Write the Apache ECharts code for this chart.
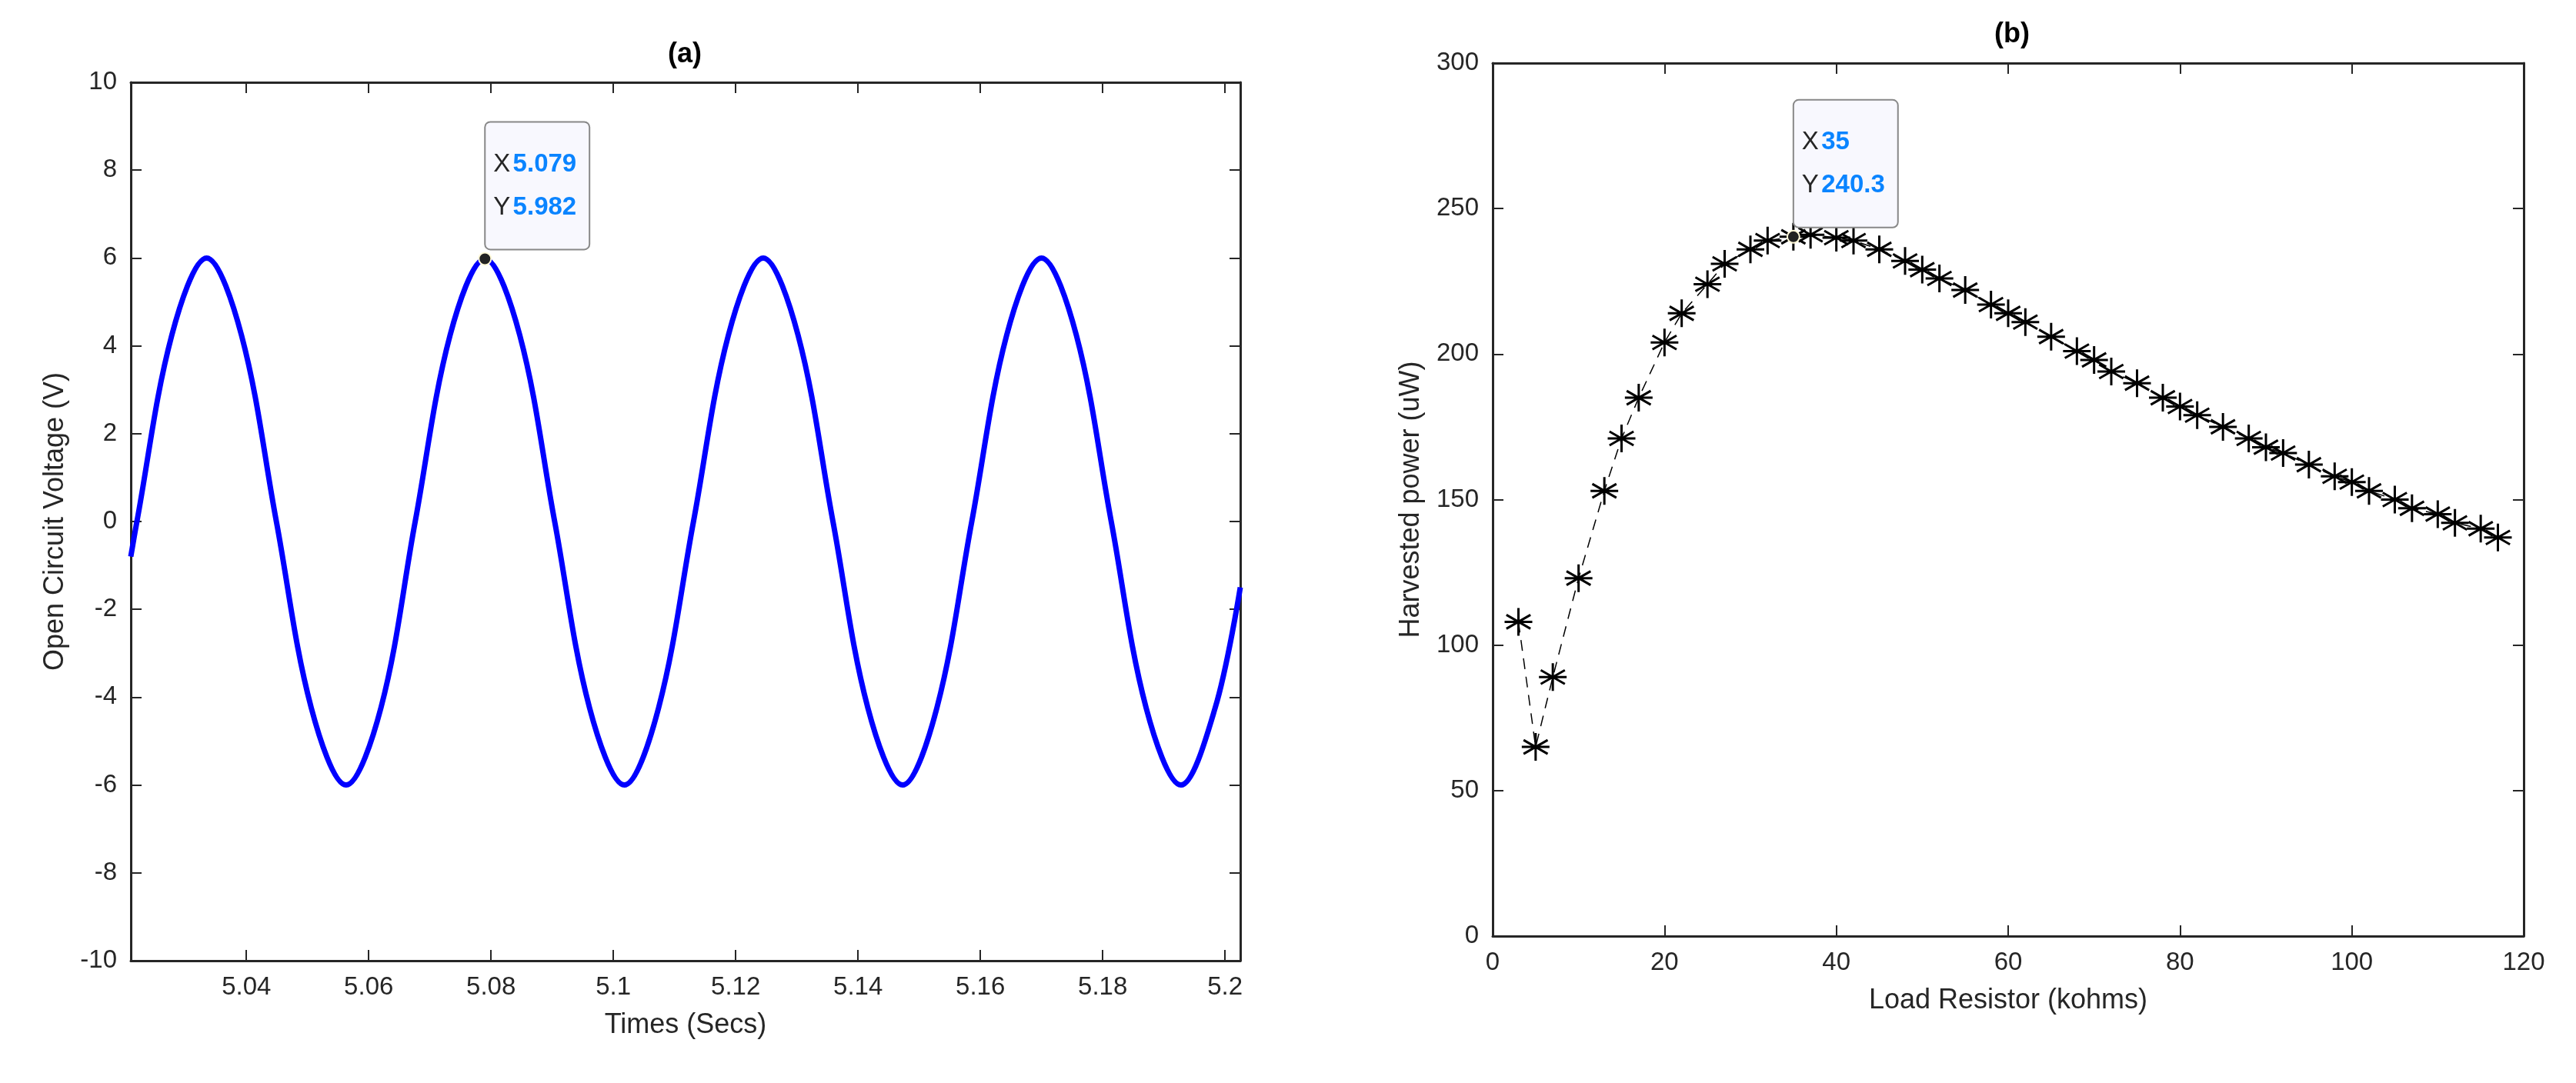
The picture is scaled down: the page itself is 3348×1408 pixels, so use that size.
<!DOCTYPE html>
<html>
<head>
<meta charset="utf-8">
<script src="https://cdn.jsdelivr.net/npm/echarts@6/dist/echarts.min.js"></script>
<style>
  html, body { margin: 0; padding: 0; background: #fff; }
  #chart { width: 3348px; height: 1408px; }
</style>
</head>
<body>
<div id="chart"></div>
<script>
// (a) open circuit voltage
var timeSecs = [5.0211, 5.0221, 5.0278, 5.0335, 5.0392, 5.0449, 5.0506, 5.0563, 5.0620, 5.0676,
  5.0733, 5.0790, 5.0847, 5.0904, 5.0961, 5.1018, 5.1074, 5.1131, 5.1188, 5.1245,
  5.1302, 5.1359, 5.1416, 5.1473, 5.1529, 5.1586, 5.1643, 5.1700, 5.1757, 5.1814,
  5.1871, 5.1928, 5.1984, 5.2025];
var voltage = [-0.8, 0, 4.24, 6, 4.24, 0, -4.24, -6, -4.24, 0,
  4.24, 5.982, 4.24, 0, -4.24, -6, -4.24, 0, 4.24, 6,
  4.24, 0, -4.24, -6, -4.24, 0, 4.24, 6, 4.24, 0,
  -4.24, -6, -4.24, -1.5];
var timeTicks = [5.04, 5.06, 5.08, 5.1, 5.12, 5.14, 5.16, 5.18, 5.2];

// (b) harvested power vs load
var loadK = [3, 5, 7, 10, 13, 15, 17, 20, 22, 25, 27, 30, 32, 35, 37, 40, 42, 45, 48, 50,
  52, 55, 58, 60, 62, 65, 68, 70, 72, 75, 78, 80, 82, 85, 88, 90, 92, 95, 98, 100,
  102, 105, 107, 110, 112, 115, 117];
var powerUW = [108, 65, 89, 123, 153, 171, 185, 204, 214, 224, 231, 236, 239, 240.3, 241, 240, 239, 236, 232, 229,
  226, 222, 217, 214, 211, 206, 201, 198, 194, 190, 185, 182, 179, 175, 171, 168, 166, 162, 158, 156,
  153, 150, 147, 145, 142, 140, 137];

var tipA = [5.079, 5.982];
var tipB = [35, 240.3];

var font = 'Liberation Sans';
var dom = document.getElementById('chart');
var myChart = echarts.init(dom);

function boxAxis(pos, grid, min, max, interval) {
  return {
    type: 'value', position: pos, gridIndex: grid, min: min, max: max, interval: interval,
    axisLine: { show: true, onZero: false, lineStyle: { color: '#262626', width: 3 } },
    axisTick: { show: true, inside: true, length: 14, lineStyle: { color: '#262626', width: 2 } },
    axisLabel: { show: false }, splitLine: { show: false }
  };
}

function mainAxis(pos, grid, min, max, interval, name, gap, extra) {
  var a = boxAxis(pos, grid, min, max, interval);
  a.axisLabel = { show: true, fontFamily: font, fontSize: 33, color: '#262626', margin: 18,
    showMinLabel: true, showMaxLabel: true };
  a.name = name;
  a.nameLocation = 'middle';
  a.nameGap = gap;
  a.nameTextStyle = { fontFamily: font, fontSize: 36, color: '#262626' };
  if (extra) Object.assign(a.axisLabel, extra);
  return a;
}

function tipLabel(x, y, offY) {
  return {
    show: true,
    position: [10, offY],
    formatter: '{k|X} {v|' + x + '}\n{k|Y} {v|' + y + '}',
    backgroundColor: '#f8f8fe',
    borderColor: '#888',
    borderWidth: 2,
    borderRadius: 6,
    padding: [26, 16, 26, 10],
    rich: {
      k: { fontFamily: font, fontSize: 33, color: '#262626', lineHeight: 56 },
      v: { fontFamily: font, fontSize: 33, fontWeight: 'bold', color: '#0a84ff', lineHeight: 56 }
    }
  };
}

var xa = mainAxis('bottom', 0, 5.0211, 5.2025, 0.02, 'Times (Secs)', 66, {
  customValues: timeTicks,
  formatter: function (v) { return +(+v).toFixed(2); } });
xa.axisTick.customValues = timeTicks;
var xaTop = boxAxis('top', 0, 5.0211, 5.2025, 0.02);
xaTop.axisTick.customValues = timeTicks;

var option = {
  animation: false,
  title: [
    { text: '(a)', left: 885, top: 48, textAlign: 'center',
      textStyle: { fontFamily: font, fontSize: 36, fontWeight: 'bold', color: '#000' } },
    { text: '(b)', left: 2610, top: 22, textAlign: 'center',
      textStyle: { fontFamily: font, fontSize: 36, fontWeight: 'bold', color: '#000' } }
  ],
  grid: [
    { left: 170, top: 107, width: 1442, height: 1142 },
    { left: 1940, top: 82, width: 1340, height: 1135 }
  ],
  xAxis: [
    xa,
    xaTop,
    mainAxis('bottom', 1, 0, 120, 20, 'Load Resistor (kohms)', 66),
    boxAxis('top', 1, 0, 120, 20)
  ],
  yAxis: [
    mainAxis('left', 0, -10, 10, 2, 'Open Circuit Voltage (V)', 80),
    boxAxis('right', 0, -10, 10, 2),
    mainAxis('left', 1, 0, 300, 50, 'Harvested power (uW)', 88),
    boxAxis('right', 1, 0, 300, 50)
  ],
  series: [
    {
      type: 'line', xAxisIndex: 0, yAxisIndex: 0,
      data: timeSecs.map(function (t, i) { return [t, voltage[i]]; }),
      smooth: 0.35, showSymbol: false,
      lineStyle: { color: '#0000ff', width: 7 },
      markPoint: {
        symbol: 'circle', symbolSize: 16,
        itemStyle: { color: '#222', borderColor: '#fff8d8', borderWidth: 2 },
        data: [{ coord: tipA, label: tipLabel('5.079', '5.982', -168) }]
      },
      z: 3
    },
    {
      type: 'line', xAxisIndex: 2, yAxisIndex: 2,
      data: loadK.map(function (x, i) { return [x, powerUW[i]]; }),
      symbol: 'path://M0,-10L0,10M-8.7,-5L8.7,5M-8.7,5L8.7,-5M-10,0L10,0',
      symbolSize: 36,
      itemStyle: { color: '#000', borderColor: '#000', borderWidth: 3 },
      lineStyle: { color: '#000', width: 1.5, type: [14, 10] },
      markPoint: {
        symbol: 'circle', symbolSize: 16,
        itemStyle: { color: '#222', borderColor: '#fff8d8', borderWidth: 2 },
        data: [{ coord: tipB, label: tipLabel('35', '240.3', -168) }]
      },
      z: 3
    }
  ]
};

if (option && typeof option === 'object') {
  myChart.setOption(option, true);
}
</script>
</body>
</html>
